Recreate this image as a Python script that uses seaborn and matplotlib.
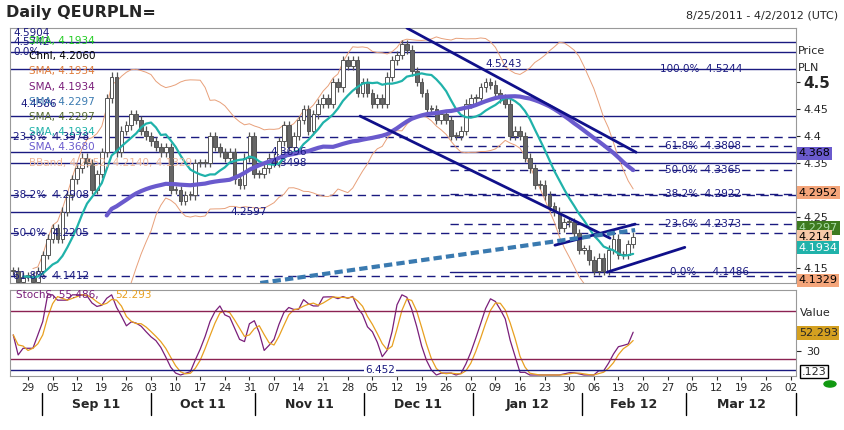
import numpy as np
import pandas as pd
import matplotlib
matplotlib.use("Agg")
import matplotlib.pyplot as plt
import seaborn as sns

start_date = "2011-08-24"
closes = [4.15, 4.13, 4.14,
          4.14, 4.13, 4.15, 4.18, 4.21,
          4.23, 4.21, 4.26, 4.29, 4.32,
          4.34, 4.36, 4.35, 4.30, 4.33,
          4.37, 4.47, 4.51, 4.37, 4.41,
          4.42, 4.44, 4.43, 4.41, 4.40,
          4.39, 4.38, 4.37, 4.38, 4.30,
          4.30, 4.28, 4.29, 4.29, 4.35,
          4.35, 4.35, 4.40, 4.38, 4.37,
          4.36, 4.37, 4.32, 4.31, 4.36,
          4.40, 4.33, 4.33, 4.34, 4.36,
          4.35, 4.39, 4.42, 4.38, 4.40,
          4.43, 4.45, 4.41, 4.44, 4.46,
          4.47, 4.46, 4.50, 4.49, 4.54,
          4.53, 4.54, 4.48, 4.50, 4.48,
          4.46, 4.47, 4.46, 4.51, 4.54,
          4.55, 4.57, 4.56, 4.52, 4.50,
          4.48, 4.45, 4.45, 4.43, 4.44,
          4.43, 4.40, 4.40, 4.41, 4.46,
          4.47, 4.47, 4.49, 4.50, 4.495,
          4.48, 4.47, 4.46, 4.40, 4.41,
          4.40, 4.36, 4.34, 4.31, 4.31,
          4.29, 4.27, 4.26, 4.23, 4.24,
          4.24, 4.22, 4.19, 4.19, 4.17,
          4.15, 4.175, 4.15, 4.19, 4.21,
          4.18, 4.18, 4.20, 4.214]

week_labels = ["29", "05", "12", "19", "26", "03", "10", "17", "24", "31", "07", "14",
               "21", "28", "05", "12", "19", "26", "02", "09", "16", "23", "30", "06",
               "13", "20", "27", "05", "12", "19", "26", "02"]
month_labels = ["Sep 11", "Oct 11", "Nov 11", "Dec 11", "Jan 12", "Feb 12", "Mar 12"]

solid_levels = [4.5742, 4.5564, 4.5244, 4.4370, 4.3696, 4.3498, 4.2597]
dashed_levels = [4.3978, 4.2908, 4.2205, 4.1412]
fib_right = [("61.8%", 4.3808), ("50.0%", 4.3365), ("38.2%", 4.2922), ("23.6%", 4.2373)]
fib_left = [("23.6%", 4.3978), ("38.2%", 4.2908), ("50.0%", 4.2205), ("61.8%", 4.1412)]
trend_down = [((80.0, 4.600), (126.6, 4.370)), ((70.5, 4.437), (121.3, 4.211)),
              ((110.1, 4.198), (126.4, 4.237)), ((120.7, 4.148), (136.5, 4.194))]
long_ma_line = ((50.2, 4.128), (126.4, 4.226))

n = len(closes)
idx = np.arange(n)
df = pd.DataFrame({"i": idx, "close": closes})
df["open"] = df["close"].shift(1).fillna(df["close"].iloc[0])
df["sma_fast"] = df["close"].rolling(10, min_periods=3).mean()
df["sma_slow"] = df["close"].rolling(45, min_periods=20).mean()
m20 = df["close"].rolling(20, min_periods=5).mean()
s20 = df["close"].rolling(20, min_periods=5).std()
df["bb_up"] = m20 + 2 * s20
df["bb_lo"] = m20 - 2 * s20
lo = df["close"].rolling(14, min_periods=1).min()
hi = df["close"].rolling(14, min_periods=1).max()
rawk = 100 * (df["close"] - lo) / (hi - lo).replace(0, np.nan)
df["k"] = rawk.fillna(50).rolling(3, min_periods=1).mean()
df["d"] = df["k"].rolling(3, min_periods=1).mean()

mon_idx = [3 + 5 * w for w in range(len(week_labels))]
x_of = lambda px: 3 + (px - 28) / 4.92

sns.set_style("white")
fig = plt.figure(figsize=(8.44, 4.30), dpi=100)
ax = fig.add_axes([10/844, 1-283/430, 786/844, 255/430])
ax2 = fig.add_axes([10/844, 1-376/430, 786/844, 86/430], sharex=ax)
xl = (x_of(10), x_of(796))
ax.set_xlim(*xl)
ax.set_ylim(4.128, 4.6)
ax2.set_ylim(-1.25, 106)

navy = "#1a1a80"
for lv in solid_levels:
    ax.axhline(lv, color=navy, lw=1)
for lv in dashed_levels:
    ax.axhline(lv, color=navy, lw=1, ls=(0, (6, 4)))
for _, lv in fib_right:
    ax.plot([x_of(450), xl[1]], [lv, lv], color=navy, lw=1, ls=(0, (6, 4)))
ax.plot([x_of(450), xl[1]], [4.1486, 4.1486], color=navy, lw=1)

sns.lineplot(data=df, x="i", y="bb_up", ax=ax, color="#e8a07a", lw=0.7)
sns.lineplot(data=df, x="i", y="bb_lo", ax=ax, color="#e8a07a", lw=0.7)

for i, o, c in zip(df["i"], df["open"], df["close"]):
    up = c >= o
    ax.vlines(i, min(o, c) - 0.008, max(o, c) + 0.008, color="#555555", lw=0.9, zorder=3)
    ax.bar(i, max(abs(c - o), 0.002), bottom=min(o, c), width=0.75,
           color="white" if up else "#666666", edgecolor="#555555", lw=0.7, zorder=4)

sns.lineplot(data=df, x="i", y="sma_fast", ax=ax, color="#20b2aa", lw=1.6, zorder=5)
sns.lineplot(data=df, x="i", y="sma_slow", ax=ax, color="#6a5acd", lw=3, zorder=5)
for (a, b) in trend_down:
    ax.plot([a[0], b[0]], [a[1], b[1]], color="#10108a", lw=2, zorder=6)
ax.plot([long_ma_line[0][0], long_ma_line[1][0]], [long_ma_line[0][1], long_ma_line[1][1]],
        color="#3a7ab0", lw=3, ls=(0, (2, 1)), zorder=6)

tk = dict(fontsize=7.5, color=navy, zorder=7)
for name, lv in fib_left:
    ax.text(x_of(13), lv, f"{name}  {lv:.4f}", va="center", **tk)
ax.text(x_of(13), 4.5742, "4.5742", va="center", **tk)
ax.text(x_of(13), 4.5564, "0.0%", va="center", **tk)
ax.text(x_of(13), 4.5904, "4.5904", va="center", **tk)
ax.text(x_of(20), 4.4586, "4.4586", va="center", **tk)
ax.text(x_of(660), 4.5244, "100.0%  4.5244", va="center", **tk)
for name, lv in fib_right:
    ax.text(x_of(665), lv, f"{name}  {lv:.4f}", va="center", **tk)
ax.text(x_of(670), 4.1486, "0.0%     4.1486", va="center", **tk)
ax.text(x_of(485), 4.5244, "4.5243", va="bottom", **tk)
ax.text(x_of(270), 4.3696, "4.3696", va="center", **tk)
ax.text(x_of(270), 4.3498, "4.3498", va="center", **tk)
ax.text(x_of(230), 4.2597, "4.2597", va="center", **tk)

legend_items = [("SMA, 4.1934", "#22cc22"), ("Chnl, 4.2060", "black"), ("SMA, 4.1934", "#e07b39"),
                ("SMA, 4.1934", "#7a1f7a"), ("SMA, 4.2297", "#3a7ab0"), ("SMA, 4.2297", "#556b2f"),
                ("SMA, 4.1934", "#20b2aa"), ("SMA, 4.3680", "#6a5acd"),
                ("BBand, 4.2952, 4.2140, 4.1329", "#f0b898")]
for k, (t, c) in enumerate(legend_items):
    fig.text(29/844, 1-(41 + 15.2*k)/430, t, color=c, fontsize=7.5, va="center")

ax.yaxis.tick_right()
ax.set_yticks([4.5, 4.45, 4.4, 4.35, 4.25, 4.155])
ax.set_yticklabels(["4.5", "4.45", "4.4", "4.35", "4.25", "4.15"], fontsize=8)
ax.get_yticklabels()[0].set_fontweight("bold")
ax.get_yticklabels()[0].set_fontsize(11)
ax.tick_params(axis="y", length=3, pad=2, right=True)
ax.set_ylabel("")
ax.set_xlabel("")
ax.tick_params(axis="x", bottom=False, labelbottom=False)
fig.text(798/844, 1-51/430, "Price", fontsize=8, va="center")
fig.text(798/844, 1-68/430, "PLN", fontsize=8, va="center")

boxes = [(4.368, "4.368", "#6a5acd", "black"), (4.2952, "4.2952", "#f4a57a", "black"),
         (4.2297, "4.2297", "#3d7a1f", "#aaddaa"), (4.214, "4.214", "#f7c8a8", "black"),
         (4.1934, "4.1934", "#20b2aa", "white"), (4.1329, "4.1329", "#f4a57a", "black")]
for lv, t, bg, fg in boxes:
    ax.annotate(t, xy=(1, lv), xycoords=("axes fraction", "data"), xytext=(2, 0),
                textcoords="offset points", va="center", fontsize=8, color=fg,
                bbox=dict(boxstyle="square,pad=0.15", fc=bg, ec="none"), annotation_clip=False)

sns.lineplot(data=df, x="i", y="k", ax=ax2, color="#7a1f7a", lw=0.9)
sns.lineplot(data=df, x="i", y="d", ax=ax2, color="#e8a020", lw=0.9)
for lv in (80, 20):
    ax2.axhline(lv, color="#8b2252", lw=1)
ax2.axhline(6.452, color=navy, lw=1)
ax2.text(x_of(380), 6.452, "6.452", fontsize=7.5, color=navy, ha="center", va="center",
         bbox=dict(fc="white", ec="none", pad=0.5))
ax2.text(x_of(16), 100, "StochS, 55.486, ", color="#7a1f7a", fontsize=7.5, va="center")
ax2.text(x_of(115), 100, "52.293", color="#e8a020", fontsize=7.5, va="center")
ax2.yaxis.tick_right()
ax2.set_yticks([30])
ax2.set_yticklabels(["30"], fontsize=8)
ax2.set_ylabel("")
ax2.set_xlabel("")
fig.text(800/844, 1-313/430, "Value", fontsize=8, va="center")
ax2.annotate("52.293", xy=(1, 52.4), xycoords=("axes fraction", "data"), xytext=(2, 0),
             textcoords="offset points", va="center", fontsize=8,
             bbox=dict(boxstyle="square,pad=0.15", fc="#d4a020", ec="none"), annotation_clip=False)
ax2.annotate(".123", xy=(1, 4), xycoords=("axes fraction", "data"), xytext=(4, 0),
             textcoords="offset points", va="center", fontsize=8,
             bbox=dict(boxstyle="square,pad=0.15", fc="white", ec="black"), annotation_clip=False)
ax2.set_xticks(mon_idx)
ax2.set_xticklabels(week_labels, fontsize=7.5)
ax2.tick_params(axis="x", length=3, pad=2, bottom=True)

month_sep_px = [42, 151, 255, 364, 473, 582, 686, 796]
for px in month_sep_px:
    ax2.plot([x_of(px)] * 2, [-0.2, -0.45], transform=ax2.get_xaxis_transform(),
             color="black", lw=1, clip_on=False)
for k, t in enumerate(month_labels):
    mid = (month_sep_px[k] + month_sep_px[k + 1]) / 2
    ax2.text(x_of(mid), -0.33, t, transform=ax2.get_xaxis_transform(), ha="center",
             va="center", fontsize=9, fontweight="bold")

for a in (ax, ax2):
    for s in a.spines.values():
        s.set_color("#999999")
        s.set_linewidth(0.8)

fig.text(6/844, 1-12/430, "Daily QEURPLN=", fontsize=11.5, fontweight="bold", va="center")
fig.text(838/844, 1-16/430, "8/25/2011 - 4/2/2012 (UTC)", fontsize=8, ha="right", va="center")
fig.patches.append(plt.Circle((830/844, 1-384/430), 6/844, transform=fig.transFigure,
                              color="#119911", figure=fig))
fig.savefig("out.png", dpi=100, facecolor="white")
